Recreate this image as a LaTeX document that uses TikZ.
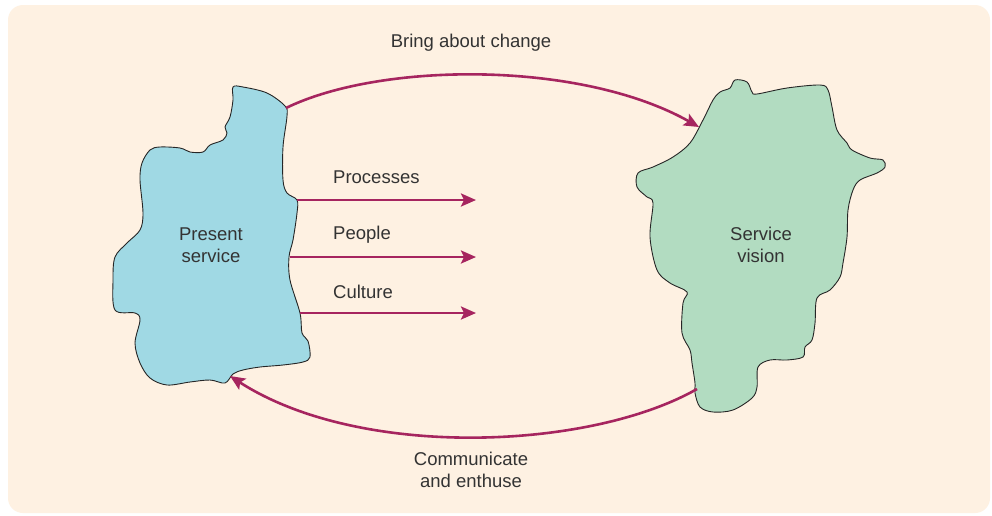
\documentclass[tikz,border=0pt]{standalone}
\usepackage{fontspec}
\setmainfont{Liberation Sans}
\usetikzlibrary{arrows.meta}
\definecolor{bgcream}{HTML}{FEF1E2}
\definecolor{blobblue}{HTML}{A0D9E4}
\definecolor{blobgreen}{HTML}{B2DCC1}
\definecolor{arrowred}{HTML}{A6255F}
\definecolor{txtgrey}{HTML}{333333}
\tikzset{
  blob/.style={draw=black!85, line width=0.9pt},
  conn/.style={draw=arrowred, line width=2.6pt, -{Stealth[length=15pt,width=13pt,inset=3pt]}},
  lbl/.style={font=\fontsize{18.5}{22}\selectfont, text=txtgrey, inner sep=0pt},
  blk/.style={lbl, align=center}
}
\begin{document}
\begin{tikzpicture}[x=1pt,y=-1pt]
\useasboundingbox (0,0) rectangle (992,515);
\fill[white] (0,0) rectangle (992,515);
\fill[bgcream, rounded corners=15pt] (8,5) rectangle (990,513);

% Present service blob
\draw[blob, fill=blobblue] plot[smooth cycle, tension=0.55] coordinates {
 (233,87) (243,87) (267,93) (285,106) (287,116) (283,147) (283,180) (287,193) (297,200)
 (297,213) (293,240) (289,257) (290,280) (300,313) (302,333) (308,341) (310,357) (303,362)
 (283,365) (260,367) (243,370) (233,374) (225,383) (210,380) (190,382) (167,385)
 (150,378) (140,363) (135,343) (140,320) (135,313) (115,310) (113,280) (115,257)
 (127,243) (140,230) (143,213) (140,180) (142,163) (150,150) (160,147) (180,148)
 (190,152) (203,152) (210,145) (223,140) (227,133) (225,127) (230,117) (233,100)};

% Service vision blob
\draw[blob, fill=blobgreen] plot[smooth cycle, tension=0.55] coordinates {
 (735,80) (747,82) (752,92) (757,94) (787,88) (820,85) (828,90) (832,107) (837,130)
 (847,143) (852,150) (870,158) (883,160) (885,167) (877,173) (860,180) (853,190)
 (848,210) (847,237) (843,263) (840,277) (830,290) (817,298) (815,323) (812,340)
 (805,347) (803,357) (787,360) (770,360) (758,367) (757,387) (752,398) (733,410)
 (713,412) (700,407) (695,393) (695,383) (692,363) (690,350) (682,333) (683,303)
 (687,292) (670,283) (657,270) (650,237) (653,203) (647,197) (637,187) (638,173)
 (653,167) (673,157) (690,143) (703,120) (713,100) (720,92) (730,88)};

% labels in blobs
\node[blk] (present) at (211,245) {Present\\service};
\node[blk] (vision) at (761,245) {Service\\vision};

% connector endpoints
\coordinate (pTop) at (286,108);
\coordinate (vTop) at (699,127);
\coordinate (vBot) at (697,389);
\coordinate (pBot) at (230,376);
\coordinate (pProc) at (297,200);
\coordinate (pPeop) at (290,257);
\coordinate (pCult) at (300,313);
\coordinate (eProc) at (476,200);
\coordinate (ePeop) at (476,257);
\coordinate (eCult) at (476,313);

\draw[conn] (pTop) .. controls (380,62) and (580,60) .. (vTop);
\draw[conn] (vBot) .. controls (590,450) and (360,460) .. (pBot);
\draw[conn] (pProc) -- (eProc);
\draw[conn] (pPeop) -- (ePeop);
\draw[conn] (pCult) -- (eCult);

\node[lbl, anchor=west] (proc) at (333,177) {Processes};
\node[lbl, anchor=west] (peop) at (333,235) {People};
\node[lbl, anchor=west] (cult) at (333,292) {Culture};
\node[lbl] (bring) at (471,43) {Bring about change};
\node[blk] (comm) at (471,470) {Communicate\\and enthuse};
\end{tikzpicture}
\end{document}
